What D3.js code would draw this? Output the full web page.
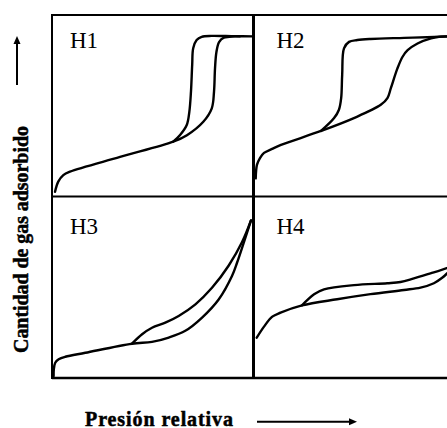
<!DOCTYPE html>
<html>
<head>
<meta charset="utf-8">
<script src="https://cdn.jsdelivr.net/npm/d3@7"></script>
<style>
  body { margin: 0; background: #fff; }
  svg { display: block; }
  svg text { font-family: 'Times New Roman', 'Liberation Serif', Tinos, 'DejaVu Serif', serif; }
</style>
</head>
<body>
<svg id="chart"></svg>
<script>
// Panel names (hysteresis loop types)
const panelNames = ['H1', 'H2', 'H3', 'H4'];

// Curves in relative units: x = presión relativa (0-1), y = cantidad adsorbida (0-1)
const h1Adsorcion = [[0.015, 0.026], [0.031, 0.082], [0.056, 0.118], [0.089, 0.137], [0.337, 0.218], [0.600, 0.302],
  [0.668, 0.338], [0.749, 0.412], [0.791, 0.486], [0.802, 0.577], [0.807, 0.706], [0.814, 0.796], [0.827, 0.851],
  [0.851, 0.875], [0.906, 0.882], [0.995, 0.882]];
const h1Desorcion = [[0.600, 0.302], [0.634, 0.339], [0.667, 0.394], [0.680, 0.468], [0.688, 0.578], [0.694, 0.725],
  [0.699, 0.817], [0.716, 0.862], [0.741, 0.880], [0.790, 0.885], [0.860, 0.884], [0.930, 0.883]];

const h2Adsorcion = [[0.011, 0.100], [0.017, 0.174], [0.032, 0.212], [0.052, 0.240], [0.092, 0.262], [0.136, 0.284],
  [0.334, 0.361], [0.497, 0.432], [0.630, 0.505], [0.663, 0.542], [0.680, 0.597], [0.713, 0.707], [0.738, 0.770],
  [0.763, 0.806], [0.812, 0.843], [0.879, 0.871], [0.927, 0.881], [0.960, 0.882]];
const h2Desorcion = [[0.334, 0.361], [0.399, 0.432], [0.423, 0.478], [0.434, 0.542], [0.439, 0.670], [0.448, 0.816],
  [0.473, 0.852], [0.514, 0.862], [0.580, 0.868], [0.746, 0.874], [0.894, 0.879], [0.960, 0.882]];

const h3Adsorcion = [[0.008, 0.011], [0.009, 0.048], [0.016, 0.084], [0.033, 0.103], [0.066, 0.117], [0.165, 0.139],
  [0.396, 0.189], [0.495, 0.199], [0.578, 0.223], [0.660, 0.260], [0.743, 0.333], [0.826, 0.434], [0.891, 0.562],
  [0.916, 0.635], [0.949, 0.745], [0.985, 0.868]];
const h3Desorcion = [[0.396, 0.189], [0.446, 0.241], [0.495, 0.277], [0.561, 0.305], [0.627, 0.342], [0.710, 0.406],
  [0.792, 0.497], [0.875, 0.620], [0.941, 0.749], [0.985, 0.868]];

const h4Adsorcion = [[0.016, 0.222], [0.052, 0.283], [0.093, 0.338], [0.134, 0.360], [0.240, 0.400], [0.414, 0.434],
  [0.579, 0.462], [0.745, 0.485], [0.827, 0.498], [0.893, 0.522], [0.934, 0.552], [0.958, 0.576], [1.0, 0.630]];
const h4Desorcion = [[0.240, 0.400], [0.300, 0.461], [0.349, 0.488], [0.498, 0.512], [0.662, 0.522], [0.728, 0.529],
  [0.794, 0.549], [0.876, 0.576], [0.957, 0.606], [1.0, 0.630]];

const curves = [
  [h1Adsorcion, h1Desorcion],
  [h2Adsorcion, h2Desorcion],
  [h3Adsorcion, h3Desorcion],
  [h4Adsorcion, h4Desorcion]
];

const width = 447;
const height = 428;

// Frame geometry
const frameLeft = 52, frameMid = 253.5, frameRight = 455;
const frameTop = 15, frameMidY = 196.5, frameBottom = 378;

const svg = d3.select('#chart')
    .attr('width', width)
    .attr('height', height);

const panels = [
  {x: frameLeft, y: frameTop, h: frameMidY - frameTop},
  {x: frameMid, y: frameTop, h: frameMidY - frameTop},
  {x: frameLeft, y: frameMidY, h: frameBottom - frameMidY},
  {x: frameMid, y: frameMidY, h: frameBottom - frameMidY}
];

const line = d3.line().curve(d3.curveCatmullRom.alpha(0.5));

panels.forEach(function(p, i) {
    let x = d3.scaleLinear().domain([0, 1]).range([p.x, p.x + 202]);
    let y = d3.scaleLinear().domain([0, 1]).range([p.y + p.h, p.y]);

    line.x(d => x(d[0])).y(d => y(d[1]));

    svg.append('g')
        .selectAll('path')
        .data(curves[i])
        .enter()
        .append('path')
        .attr('d', line)
        .attr('fill', 'none')
        .attr('stroke', '#000')
        .attr('stroke-width', 2.4)
        .attr('stroke-linecap', 'round')
        .attr('stroke-linejoin', 'round');

    svg.append('text')
        .attr('x', p.x + (i % 2 === 0 ? 18 : 23))
        .attr('y', p.y + (i < 2 ? 32.5 : 37.5))
        .style('font-size', '23px')
        .text(panelNames[i]);
});

// Frame lines
svg.append('g')
    .selectAll('line')
    .data([
      [frameLeft, frameTop, frameRight, frameTop, 2],
      [frameLeft, frameMidY, frameRight, frameMidY, 2],
      [frameLeft, frameBottom, frameRight, frameBottom, 2.5],
      [frameLeft, frameTop - 1, frameLeft, frameBottom + 1, 2],
      [frameMid, frameTop - 1, frameMid, frameBottom + 1, 3]
    ])
    .enter()
    .append('line')
    .attr('x1', d => d[0]).attr('y1', d => d[1])
    .attr('x2', d => d[2]).attr('y2', d => d[3])
    .attr('stroke', '#000')
    .attr('stroke-width', d => d[4]);

// Axis titles (slight stroke for the heavy bold look)
svg.append('text')
    .attr('transform', 'translate(28,239.5) rotate(-90)')
    .attr('text-anchor', 'middle')
    .style('font-weight', 'bold')
    .style('font-size', '20px')
    .attr('stroke', '#000')
    .attr('stroke-width', 0.5)
    .attr('textLength', 227)
    .text('Cantidad de gas  adsorbido');

svg.append('text')
    .attr('x', 85)
    .attr('y', 425.5)
    .style('font-weight', 'bold')
    .style('font-size', '20px')
    .attr('stroke', '#000')
    .attr('stroke-width', 0.5)
    .attr('textLength', 148)
    .text('Presión relativa');

// Arrows
svg.append('line')
    .attr('x1', 17).attr('y1', 85).attr('x2', 17).attr('y2', 42)
    .attr('stroke', '#000').attr('stroke-width', 2);
svg.append('path')
    .attr('d', 'M17,36 L13.5,44 L20.5,44 Z')
    .attr('fill', '#000');

svg.append('line')
    .attr('x1', 257).attr('y1', 421.7).attr('x2', 350).attr('y2', 421.7)
    .attr('stroke', '#000').attr('stroke-width', 2);
svg.append('path')
    .attr('d', 'M357,421.7 L349,418.2 L349,425.2 Z')
    .attr('fill', '#000');
</script>
</body>
</html>
